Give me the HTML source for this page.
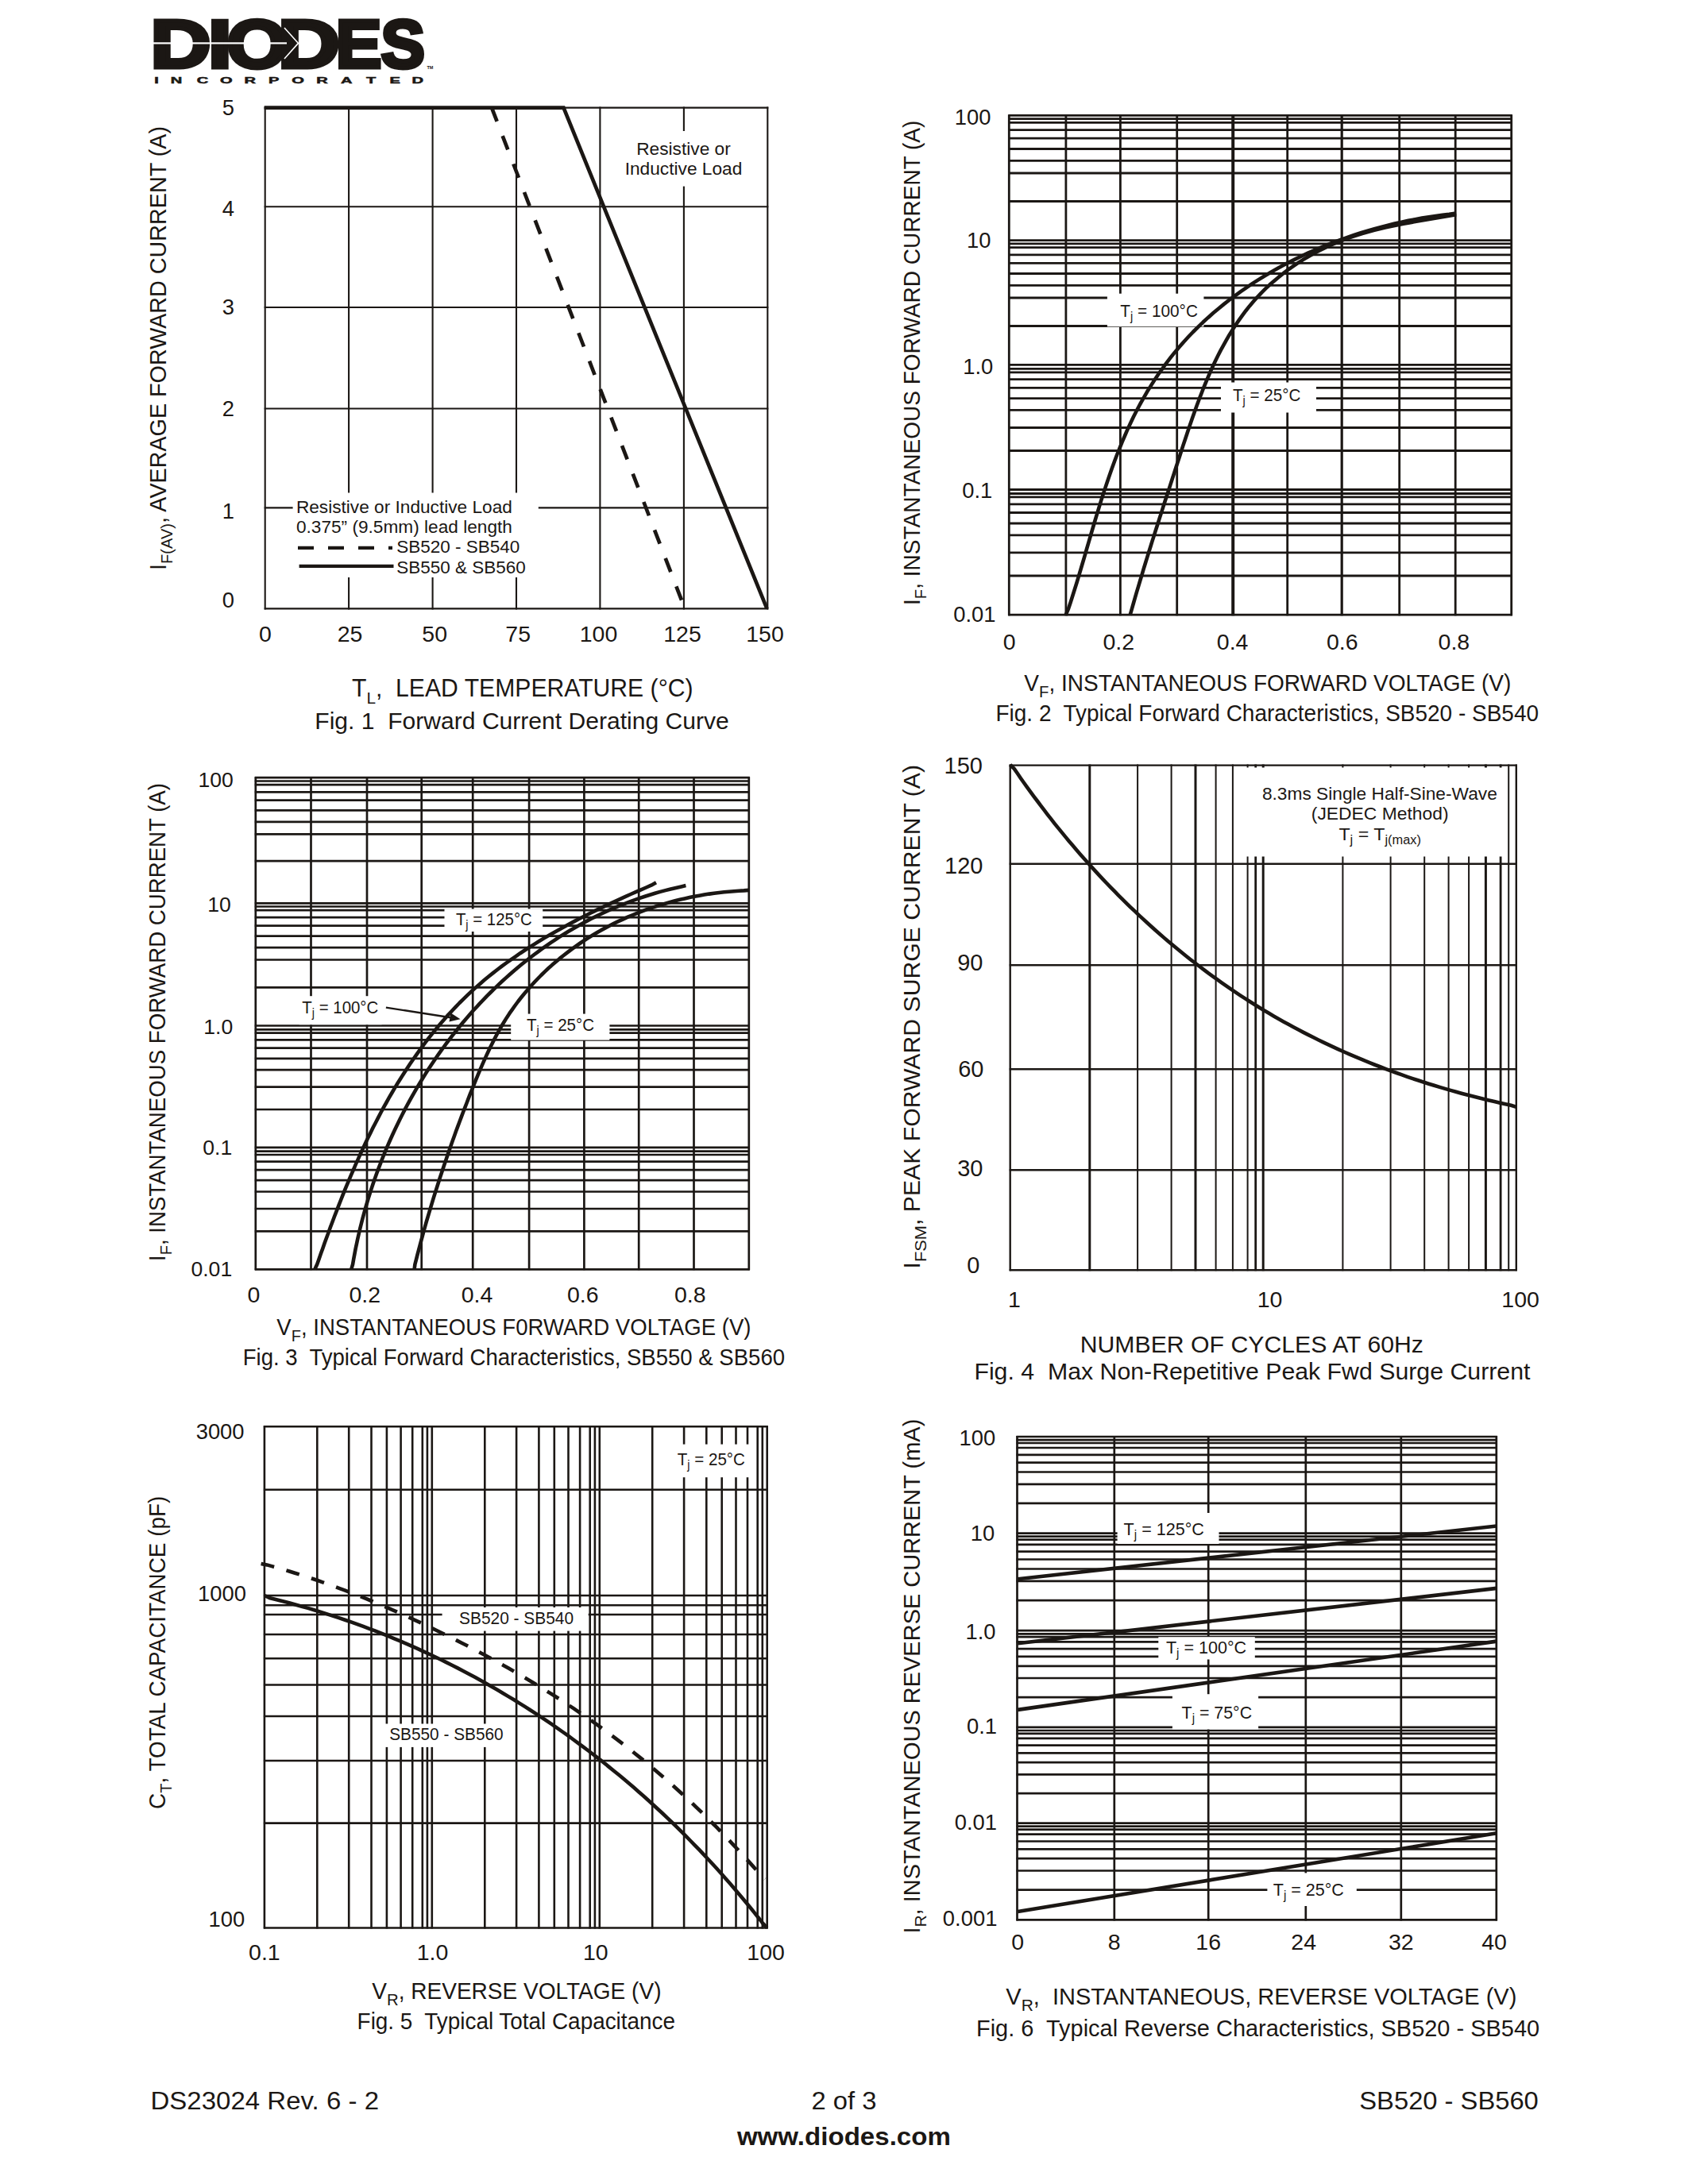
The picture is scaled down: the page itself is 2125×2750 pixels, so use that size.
<!DOCTYPE html>
<html lang="en"><head><meta charset="utf-8"><title>SB520 - SB560</title>
<style>
html,body{margin:0;padding:0;background:#fff;}
body{width:2125px;height:2750px;overflow:hidden;}
svg{display:block;font-family:"Liberation Sans",sans-serif;}
svg text{fill:#1b1714;stroke:none;white-space:pre;}
</style></head><body>
<svg width="2125" height="2750" viewBox="0 0 2125 2750" stroke="#1b1714" fill="#1b1714" stroke-linecap="butt">
<rect x="0" y="0" width="2125" height="2750" fill="#fff" stroke="none"/>
<g aria-label="DIODES"><text transform="translate(189.49,85.4) scale(1.231,1)" font-size="85.5" font-weight="bold" style="stroke:#1b1714;stroke-width:5.0">D</text><text transform="translate(261.98,85.4) scale(1.252,1)" font-size="85.5" font-weight="bold" style="stroke:#1b1714;stroke-width:5.0">I</text><text transform="translate(285.46,85.4) scale(1.153,1)" font-size="85.5" font-weight="bold" style="stroke:#1b1714;stroke-width:5.0">O</text><text transform="translate(349.91,85.4) scale(1.260,1)" font-size="85.5" font-weight="bold" style="stroke:#1b1714;stroke-width:5.0">D</text><text transform="translate(422.87,85.4) scale(1.011,1)" font-size="85.5" font-weight="bold" style="stroke:#1b1714;stroke-width:5.0">E</text><text transform="translate(479.58,85.4) scale(0.971,1)" font-size="85.5" font-weight="bold" style="stroke:#1b1714;stroke-width:5.0">S</text></g>
<rect x="193" y="53.3" width="168" height="2.2" fill="#fff" stroke="none"/>
<path d="M358,35 L375.5,54.4 L358,74" fill="none" stroke="#fff" stroke-width="1.6"/>
<text transform="translate(194,104.9) scale(1.75,1)" x="0.14 11.84 30.73 47.47 64.85 82.23 99.02 116.65 134.32 152.63 169.37 185.50" y="0" font-size="11.5" font-weight="bold" style="stroke:#1b1714;stroke-width:0.5">INCORPORATED</text>
<text x="537.5" y="86.5" font-size="5.5" text-anchor="start" font-weight="bold">TM</text>
<text x="189.5" y="2655.5" font-size="31" text-anchor="start" textLength="287.5" lengthAdjust="spacingAndGlyphs" >DS23024 Rev. 6 - 2</text>
<text x="1062.4" y="2655.5" font-size="31" text-anchor="middle" textLength="82.0" lengthAdjust="spacingAndGlyphs" >2 of 3</text>
<text x="1711.3" y="2655.5" font-size="31" text-anchor="start" textLength="225.5" lengthAdjust="spacingAndGlyphs" >SB520 - SB560</text>
<text x="1062.4" y="2701.0" font-size="31" text-anchor="middle" textLength="269.0" lengthAdjust="spacingAndGlyphs" font-weight="bold">www.diodes.com</text>
<line x1="333.7" y1="134.6" x2="333.7" y2="767.4" stroke-width="2.1" />
<line x1="439.1" y1="134.6" x2="439.1" y2="767.4" stroke-width="2.1" />
<line x1="544.6" y1="134.6" x2="544.6" y2="767.4" stroke-width="2.1" />
<line x1="650.0" y1="134.6" x2="650.0" y2="767.4" stroke-width="2.1" />
<line x1="755.4" y1="134.6" x2="755.4" y2="767.4" stroke-width="2.1" />
<line x1="860.9" y1="134.6" x2="860.9" y2="767.4" stroke-width="2.1" />
<line x1="966.3" y1="134.6" x2="966.3" y2="767.4" stroke-width="2.1" />
<line x1="332.7" y1="135.6" x2="967.3" y2="135.6" stroke-width="2.1" />
<line x1="332.7" y1="260.3" x2="967.3" y2="260.3" stroke-width="2.1" />
<line x1="332.7" y1="387.0" x2="967.3" y2="387.0" stroke-width="2.1" />
<line x1="332.7" y1="514.5" x2="967.3" y2="514.5" stroke-width="2.1" />
<line x1="332.7" y1="639.4" x2="967.3" y2="639.4" stroke-width="2.1" />
<line x1="332.7" y1="766.4" x2="967.3" y2="766.4" stroke-width="2.1" />
<rect x="368.6" y="620.5" width="309.2" height="106.5" fill="#fff" stroke="none"/>
<rect x="787.0" y="165.0" width="147.0" height="69.6" fill="#fff" stroke="none"/>
<path d="M332.7,135.6 L709.5,135.6 L965.5,766.4" fill="none" stroke-width="4.7" stroke-linejoin="miter"/>
<path d="M619,135.6 L859.5,759.5" fill="none" stroke-width="4.7" stroke-dasharray="18.5 19.5"/>
<text x="295.0" y="145.3" font-size="27.4" text-anchor="end" >5</text>
<text x="295.0" y="272.4" font-size="27.4" text-anchor="end" >4</text>
<text x="295.0" y="396.1" font-size="27.4" text-anchor="end" >3</text>
<text x="295.0" y="523.7" font-size="27.4" text-anchor="end" >2</text>
<text x="295.0" y="653.1" font-size="27.4" text-anchor="end" >1</text>
<text x="295.0" y="765.2" font-size="27.4" text-anchor="end" >0</text>
<text x="334.0" y="808.0" font-size="28.5" text-anchor="middle" >0</text>
<text x="440.6" y="808.0" font-size="28.5" text-anchor="middle" >25</text>
<text x="547.2" y="808.0" font-size="28.5" text-anchor="middle" >50</text>
<text x="652.2" y="808.0" font-size="28.5" text-anchor="middle" >75</text>
<text x="753.5" y="808.0" font-size="28.5" text-anchor="middle" >100</text>
<text x="859.0" y="808.0" font-size="28.5" text-anchor="middle" >125</text>
<text x="963.0" y="808.0" font-size="28.5" text-anchor="middle" >150</text>
<text x="860.5" y="195.0" font-size="22.7" text-anchor="middle" >Resistive or</text>
<text x="860.5" y="220.0" font-size="22.7" text-anchor="middle" >Inductive Load</text>
<text x="372.9" y="646.2" font-size="22.7" text-anchor="start" textLength="272.0" lengthAdjust="spacingAndGlyphs" >Resistive or Inductive Load</text>
<text x="372.9" y="671.3" font-size="22.7" text-anchor="start" textLength="272.0" lengthAdjust="spacingAndGlyphs" >0.375” (9.5mm) lead length</text>
<text x="499.2" y="696.3" font-size="22.7" text-anchor="start" textLength="155.2" lengthAdjust="spacingAndGlyphs" >SB520 - SB540</text>
<text x="499.2" y="721.9" font-size="22.7" text-anchor="start" textLength="162.6" lengthAdjust="spacingAndGlyphs" >SB550 &amp; SB560</text>
<line x1="375.0" y1="689.9" x2="494.0" y2="689.9" stroke-width="4.3" stroke-dasharray="20 18"/>
<line x1="376.6" y1="712.9" x2="495.5" y2="712.9" stroke-width="4.3" />
<text transform="translate(209.0,718.0) rotate(-90)" font-size="30" text-anchor="start" textLength="559.0" lengthAdjust="spacingAndGlyphs">I<tspan font-size="21" dy="8">F(AV)</tspan><tspan dy="-8">, AVERAGE FORWARD CURRENT (A)</tspan></text>
<text x="443.0" y="876.5" font-size="30.5" text-anchor="start" textLength="429.5" lengthAdjust="spacingAndGlyphs" >T<tspan font-size="21" dy="9">L</tspan><tspan dy="-9">,  LEAD TEMPERATURE (°C)</tspan></text>
<text x="396.3" y="918.0" font-size="29" text-anchor="start" textLength="521.5" lengthAdjust="spacingAndGlyphs" >Fig. 1  Forward Current Derating Curve</text>
<line x1="1270.3" y1="144.4" x2="1270.3" y2="775.2" stroke-width="2.8" />
<line x1="1341.9" y1="144.4" x2="1341.9" y2="775.2" stroke-width="2.8" />
<line x1="1410.4" y1="144.4" x2="1410.4" y2="775.2" stroke-width="2.8" />
<line x1="1481.7" y1="144.4" x2="1481.7" y2="775.2" stroke-width="2.8" />
<line x1="1552.2" y1="144.4" x2="1552.2" y2="775.2" stroke-width="4.0" />
<line x1="1620.7" y1="144.4" x2="1620.7" y2="775.2" stroke-width="2.8" />
<line x1="1689.2" y1="144.4" x2="1689.2" y2="775.2" stroke-width="3.2" />
<line x1="1761.7" y1="144.4" x2="1761.7" y2="775.2" stroke-width="2.8" />
<line x1="1832.2" y1="144.4" x2="1832.2" y2="775.2" stroke-width="2.8" />
<line x1="1902.7" y1="144.4" x2="1902.7" y2="775.2" stroke-width="2.8" />
<line x1="1269.3" y1="145.4" x2="1903.8" y2="145.4" stroke-width="2.8" />
<line x1="1269.3" y1="149.7" x2="1903.8" y2="149.7" stroke-width="2.8" />
<line x1="1269.3" y1="154.4" x2="1903.8" y2="154.4" stroke-width="2.8" />
<line x1="1269.3" y1="163.6" x2="1903.8" y2="163.6" stroke-width="2.8" />
<line x1="1269.3" y1="174.2" x2="1903.8" y2="174.2" stroke-width="2.8" />
<line x1="1269.3" y1="187.5" x2="1903.8" y2="187.5" stroke-width="2.8" />
<line x1="1269.3" y1="202.3" x2="1903.8" y2="202.3" stroke-width="2.8" />
<line x1="1269.3" y1="218.0" x2="1903.8" y2="218.0" stroke-width="2.8" />
<line x1="1269.3" y1="253.5" x2="1903.8" y2="253.5" stroke-width="2.8" />
<line x1="1269.3" y1="302.6" x2="1903.8" y2="302.6" stroke-width="2.8" />
<line x1="1269.3" y1="306.9" x2="1903.8" y2="306.9" stroke-width="2.8" />
<line x1="1269.3" y1="311.6" x2="1903.8" y2="311.6" stroke-width="2.8" />
<line x1="1269.3" y1="320.8" x2="1903.8" y2="320.8" stroke-width="2.8" />
<line x1="1269.3" y1="331.4" x2="1903.8" y2="331.4" stroke-width="2.8" />
<line x1="1269.3" y1="344.5" x2="1903.8" y2="344.5" stroke-width="2.8" />
<line x1="1269.3" y1="359.3" x2="1903.8" y2="359.3" stroke-width="2.8" />
<line x1="1269.3" y1="375.0" x2="1903.8" y2="375.0" stroke-width="2.8" />
<line x1="1269.3" y1="410.5" x2="1903.8" y2="410.5" stroke-width="2.8" />
<line x1="1269.3" y1="459.4" x2="1903.8" y2="459.4" stroke-width="2.8" />
<line x1="1269.3" y1="464.4" x2="1903.8" y2="464.4" stroke-width="2.8" />
<line x1="1269.3" y1="468.8" x2="1903.8" y2="468.8" stroke-width="2.8" />
<line x1="1269.3" y1="477.7" x2="1903.8" y2="477.7" stroke-width="2.8" />
<line x1="1269.3" y1="488.3" x2="1903.8" y2="488.3" stroke-width="2.8" />
<line x1="1269.3" y1="501.7" x2="1903.8" y2="501.7" stroke-width="2.8" />
<line x1="1269.3" y1="516.4" x2="1903.8" y2="516.4" stroke-width="2.8" />
<line x1="1269.3" y1="538.5" x2="1903.8" y2="538.5" stroke-width="2.8" />
<line x1="1269.3" y1="567.5" x2="1903.8" y2="567.5" stroke-width="2.8" />
<line x1="1269.3" y1="616.5" x2="1903.8" y2="616.5" stroke-width="2.8" />
<line x1="1269.3" y1="621.5" x2="1903.8" y2="621.5" stroke-width="2.8" />
<line x1="1269.3" y1="625.9" x2="1903.8" y2="625.9" stroke-width="2.8" />
<line x1="1269.3" y1="634.9" x2="1903.8" y2="634.9" stroke-width="2.8" />
<line x1="1269.3" y1="645.5" x2="1903.8" y2="645.5" stroke-width="2.8" />
<line x1="1269.3" y1="659.0" x2="1903.8" y2="659.0" stroke-width="2.8" />
<line x1="1269.3" y1="673.8" x2="1903.8" y2="673.8" stroke-width="2.8" />
<line x1="1269.3" y1="695.9" x2="1903.8" y2="695.9" stroke-width="2.8" />
<line x1="1269.3" y1="725.0" x2="1903.8" y2="725.0" stroke-width="2.8" />
<line x1="1269.3" y1="774.2" x2="1903.8" y2="774.2" stroke-width="2.8" />
<rect x="1393.9" y="369.7" width="121.5" height="41.6" fill="#fff" stroke="none"/>
<rect x="1537.0" y="481.5" width="120.0" height="38.0" fill="#fff" stroke="none"/>
<path d="M1341.5,774.6 L1345.0,766.6 L1347.7,758.5 L1350.3,750.3 L1352.9,742.0 L1355.5,733.7 L1358.0,725.3 L1360.5,717.0 L1363.0,708.5 L1365.5,700.1 L1367.9,691.6 L1370.4,683.1 L1372.9,674.5 L1375.4,666.0 L1377.9,657.5 L1380.5,648.9 L1383.1,640.4 L1385.7,631.9 L1388.4,623.4 L1391.2,614.9 L1394.0,606.5 L1396.9,598.1 L1399.8,589.7 L1402.9,581.3 L1406.0,573.0 L1409.3,564.8 L1412.6,556.6 L1416.1,548.5 L1419.6,540.4 L1423.3,532.5 L1427.1,524.5 L1431.1,516.7 L1435.2,509.0 L1439.5,501.4 L1443.8,493.8 L1448.4,486.4 L1453.1,479.0 L1457.9,471.8 L1462.9,464.7 L1468.0,457.6 L1473.3,450.7 L1478.7,443.9 L1484.3,437.3 L1490.0,430.7 L1495.9,424.3 L1501.9,418.0 L1508.1,411.9 L1514.4,405.8 L1520.8,399.9 L1527.4,394.1 L1534.1,388.5 L1540.9,382.9 L1547.8,377.5 L1554.8,372.3 L1561.9,367.1 L1569.2,362.1 L1576.5,357.2 L1584.0,352.4 L1591.5,347.7 L1599.1,343.2 L1606.9,338.8 L1614.6,334.5 L1622.5,330.4 L1630.5,326.4 L1638.5,322.5 L1646.5,318.7 L1654.7,315.1 L1662.9,311.6 L1671.1,308.2 L1679.4,305.0 L1687.8,301.9 L1696.2,298.9 L1704.6,296.0 L1713.0,293.3 L1721.5,290.7 L1730.1,288.2 L1738.6,285.9 L1747.2,283.7 L1755.7,281.6 L1764.3,279.7 L1772.9,277.8 L1781.5,276.2 L1790.1,274.6 L1798.7,273.2 L1807.3,271.9 L1815.8,270.7 L1824.4,269.7 L1833.1,268.4" fill="none" stroke-width="4.6"  stroke-linejoin="round"/>
<path d="M1422.6,774.6 L1424.7,767.3 L1426.8,760.0 L1428.9,752.7 L1431.0,745.4 L1433.2,738.2 L1435.3,731.0 L1437.5,723.8 L1439.6,716.6 L1441.8,709.5 L1444.0,702.4 L1446.2,695.3 L1448.4,688.2 L1450.6,681.1 L1452.9,674.1 L1455.1,667.0 L1457.4,660.0 L1459.6,652.9 L1461.9,645.9 L1464.1,638.9 L1466.4,631.8 L1468.7,624.8 L1471.0,617.7 L1473.3,610.6 L1475.6,603.5 L1477.9,596.4 L1480.2,589.3 L1482.5,582.2 L1484.9,575.0 L1487.2,567.8 L1489.5,560.6 L1491.9,553.4 L1494.3,546.2 L1496.7,539.0 L1499.2,531.8 L1501.7,524.6 L1504.2,517.4 L1506.8,510.3 L1509.4,503.2 L1512.2,496.1 L1514.9,489.0 L1517.8,482.0 L1520.7,475.1 L1523.7,468.1 L1526.8,461.3 L1530.0,454.5 L1533.3,447.8 L1536.7,441.1 L1540.3,434.6 L1543.9,428.1 L1547.6,421.7 L1551.5,415.4 L1555.5,409.2 L1559.7,403.1 L1564.0,397.1 L1568.4,391.2 L1573.0,385.4 L1577.8,379.8 L1582.7,374.3 L1587.8,368.9 L1593.0,363.7 L1598.4,358.6 L1604.0,353.7 L1609.7,348.9 L1615.6,344.2 L1621.6,339.7 L1627.7,335.4 L1633.9,331.2 L1640.3,327.1 L1646.8,323.3 L1653.3,319.5 L1660.0,316.0 L1666.7,312.6 L1673.5,309.4 L1680.4,306.4 L1687.4,303.5 L1694.4,300.9 L1701.5,298.4 L1708.6,296.0 L1715.8,293.8 L1723.0,291.8 L1730.2,289.9 L1737.5,288.0 L1744.8,286.3 L1752.1,284.7 L1759.5,283.2 L1766.8,281.8 L1774.2,280.4 L1781.6,279.0 L1789.0,277.7 L1796.4,276.5 L1803.7,275.2 L1811.1,274.0 L1818.5,272.8 L1825.8,271.5 L1833.1,270.2" fill="none" stroke-width="4.6"  stroke-linejoin="round"/>
<text x="1247.5" y="156.6" font-size="27.4" text-anchor="end" >100</text>
<text x="1247.5" y="312.3" font-size="27.4" text-anchor="end" >10</text>
<text x="1250.3" y="470.7" font-size="27.4" text-anchor="end" >1.0</text>
<text x="1249.3" y="627.0" font-size="27.4" text-anchor="end" >0.1</text>
<text x="1253.5" y="783.2" font-size="27.4" text-anchor="end" >0.01</text>
<text x="1270.6" y="818.0" font-size="28.5" text-anchor="middle" >0</text>
<text x="1408.2" y="818.0" font-size="28.5" text-anchor="middle" >0.2</text>
<text x="1551.6" y="818.0" font-size="28.5" text-anchor="middle" >0.4</text>
<text x="1689.7" y="818.0" font-size="28.5" text-anchor="middle" >0.6</text>
<text x="1830.4" y="818.0" font-size="28.5" text-anchor="middle" >0.8</text>
<text x="1410.3" y="398.6" font-size="22.7" text-anchor="start" textLength="97.6" lengthAdjust="spacingAndGlyphs" >T<tspan font-size="16" dy="5">j</tspan><tspan dy="-5"> = 100°C</tspan></text>
<text x="1552.0" y="505.2" font-size="22.7" text-anchor="start" textLength="85.4" lengthAdjust="spacingAndGlyphs" >T<tspan font-size="16" dy="5">j</tspan><tspan dy="-5"> = 25°C</tspan></text>
<text transform="translate(1158.0,762.0) rotate(-90)" font-size="29" text-anchor="start" textLength="610.4" lengthAdjust="spacingAndGlyphs">I<tspan font-size="21" dy="8">F</tspan><tspan dy="-8">, INSTANTANEOUS FORWARD CURRENT (A)</tspan></text>
<text x="1289.3" y="869.5" font-size="29" text-anchor="start" textLength="613.1" lengthAdjust="spacingAndGlyphs" >V<tspan font-size="21" dy="8">F</tspan><tspan dy="-8">, INSTANTANEOUS FORWARD VOLTAGE (V)</tspan></text>
<text x="1253.5" y="907.9" font-size="29" text-anchor="start" textLength="683.5" lengthAdjust="spacingAndGlyphs" >Fig. 2  Typical Forward Characteristics, SB520 - SB540</text>
<line x1="321.8" y1="978.2" x2="321.8" y2="1599.3" stroke-width="2.7" />
<line x1="391.5" y1="978.2" x2="391.5" y2="1599.3" stroke-width="2.7" />
<line x1="462.0" y1="978.2" x2="462.0" y2="1599.3" stroke-width="2.7" />
<line x1="530.7" y1="978.2" x2="530.7" y2="1599.3" stroke-width="2.7" />
<line x1="595.2" y1="978.2" x2="595.2" y2="1599.3" stroke-width="2.7" />
<line x1="666.1" y1="978.2" x2="666.1" y2="1599.3" stroke-width="2.7" />
<line x1="735.4" y1="978.2" x2="735.4" y2="1599.3" stroke-width="2.7" />
<line x1="804.2" y1="978.2" x2="804.2" y2="1599.3" stroke-width="2.7" />
<line x1="873.5" y1="978.2" x2="873.5" y2="1599.3" stroke-width="2.7" />
<line x1="942.8" y1="978.2" x2="942.8" y2="1599.3" stroke-width="2.7" />
<line x1="320.8" y1="979.2" x2="943.8" y2="979.2" stroke-width="2.7" />
<line x1="320.8" y1="983.5" x2="943.8" y2="983.5" stroke-width="2.7" />
<line x1="320.8" y1="988.2" x2="943.8" y2="988.2" stroke-width="2.7" />
<line x1="320.8" y1="997.4" x2="943.8" y2="997.4" stroke-width="2.7" />
<line x1="320.8" y1="1007.6" x2="943.8" y2="1007.6" stroke-width="2.7" />
<line x1="320.8" y1="1020.4" x2="943.8" y2="1020.4" stroke-width="2.7" />
<line x1="320.8" y1="1034.9" x2="943.8" y2="1034.9" stroke-width="2.7" />
<line x1="320.8" y1="1050.3" x2="943.8" y2="1050.3" stroke-width="2.7" />
<line x1="320.8" y1="1084.1" x2="943.8" y2="1084.1" stroke-width="2.7" />
<line x1="320.8" y1="1137.3" x2="943.8" y2="1137.3" stroke-width="2.7" />
<line x1="320.8" y1="1141.5" x2="943.8" y2="1141.5" stroke-width="2.7" />
<line x1="320.8" y1="1146.1" x2="943.8" y2="1146.1" stroke-width="2.7" />
<line x1="320.8" y1="1155.2" x2="943.8" y2="1155.2" stroke-width="2.7" />
<line x1="320.8" y1="1165.6" x2="943.8" y2="1165.6" stroke-width="2.7" />
<line x1="320.8" y1="1178.6" x2="943.8" y2="1178.6" stroke-width="2.7" />
<line x1="320.8" y1="1193.1" x2="943.8" y2="1193.1" stroke-width="2.7" />
<line x1="320.8" y1="1208.5" x2="943.8" y2="1208.5" stroke-width="2.7" />
<line x1="320.8" y1="1243.4" x2="943.8" y2="1243.4" stroke-width="2.7" />
<line x1="320.8" y1="1291.5" x2="943.8" y2="1291.5" stroke-width="2.7" />
<line x1="320.8" y1="1296.4" x2="943.8" y2="1296.4" stroke-width="2.7" />
<line x1="320.8" y1="1300.7" x2="943.8" y2="1300.7" stroke-width="2.7" />
<line x1="320.8" y1="1309.4" x2="943.8" y2="1309.4" stroke-width="2.7" />
<line x1="320.8" y1="1319.7" x2="943.8" y2="1319.7" stroke-width="2.7" />
<line x1="320.8" y1="1332.8" x2="943.8" y2="1332.8" stroke-width="2.7" />
<line x1="320.8" y1="1347.2" x2="943.8" y2="1347.2" stroke-width="2.7" />
<line x1="320.8" y1="1368.6" x2="943.8" y2="1368.6" stroke-width="2.7" />
<line x1="320.8" y1="1397.0" x2="943.8" y2="1397.0" stroke-width="2.7" />
<line x1="320.8" y1="1444.8" x2="943.8" y2="1444.8" stroke-width="2.7" />
<line x1="320.8" y1="1449.7" x2="943.8" y2="1449.7" stroke-width="2.7" />
<line x1="320.8" y1="1454.0" x2="943.8" y2="1454.0" stroke-width="2.7" />
<line x1="320.8" y1="1462.7" x2="943.8" y2="1462.7" stroke-width="2.7" />
<line x1="320.8" y1="1473.1" x2="943.8" y2="1473.1" stroke-width="2.7" />
<line x1="320.8" y1="1486.2" x2="943.8" y2="1486.2" stroke-width="2.7" />
<line x1="320.8" y1="1500.5" x2="943.8" y2="1500.5" stroke-width="2.7" />
<line x1="320.8" y1="1522.0" x2="943.8" y2="1522.0" stroke-width="2.7" />
<line x1="320.8" y1="1550.4" x2="943.8" y2="1550.4" stroke-width="2.7" />
<line x1="320.8" y1="1598.3" x2="943.8" y2="1598.3" stroke-width="2.7" />
<rect x="559.5" y="1144.5" width="123.7" height="28.5" fill="#fff" stroke="none"/>
<rect x="376.6" y="1254.2" width="104.0" height="36.0" fill="#fff" stroke="none"/>
<rect x="643.2" y="1276.6" width="124.2" height="33.0" fill="#fff" stroke="none"/>
<path d="M396.3,1598.3 L399.3,1591.8 L401.6,1585.2 L403.9,1578.6 L406.3,1572.0 L408.6,1565.3 L411.0,1558.7 L413.5,1552.0 L415.9,1545.3 L418.4,1538.7 L420.9,1532.0 L423.5,1525.3 L426.1,1518.7 L428.7,1512.0 L431.3,1505.4 L434.0,1498.7 L436.7,1492.1 L439.5,1485.5 L442.3,1478.8 L445.2,1472.2 L448.0,1465.7 L451.0,1459.1 L453.9,1452.5 L457.0,1446.0 L460.0,1439.5 L463.1,1433.0 L466.3,1426.6 L469.5,1420.1 L472.8,1413.7 L476.1,1407.4 L479.4,1401.0 L482.8,1394.7 L486.3,1388.5 L489.8,1382.2 L493.4,1376.0 L497.0,1369.9 L500.7,1363.8 L504.5,1357.7 L508.3,1351.7 L512.2,1345.7 L516.1,1339.8 L520.1,1334.0 L524.2,1328.1 L528.3,1322.4 L532.5,1316.7 L536.7,1311.0 L541.1,1305.4 L545.5,1299.9 L549.9,1294.4 L554.5,1289.0 L559.1,1283.7 L563.8,1278.4 L568.6,1273.2 L573.4,1268.1 L578.3,1263.0 L583.3,1258.1 L588.4,1253.2 L593.5,1248.3 L598.7,1243.6 L604.1,1238.9 L609.4,1234.3 L614.9,1229.8 L620.4,1225.4 L626.0,1221.0 L631.7,1216.7 L637.4,1212.5 L643.2,1208.3 L649.1,1204.3 L655.0,1200.2 L661.0,1196.3 L667.0,1192.4 L673.1,1188.6 L679.2,1184.8 L685.3,1181.1 L691.5,1177.5 L697.7,1173.9 L704.0,1170.4 L710.3,1166.9 L716.6,1163.5 L723.0,1160.1 L729.4,1156.8 L735.8,1153.5 L742.2,1150.3 L748.6,1147.1 L755.1,1143.9 L761.5,1140.9 L768.0,1137.8 L774.5,1134.8 L781.0,1131.8 L787.5,1128.9 L793.9,1126.0 L800.4,1123.1 L806.9,1120.3 L813.4,1117.5 L819.8,1114.7 L826.0,1111.3" fill="none" stroke-width="4.6"  stroke-linejoin="round"/>
<path d="M442.2,1598.3 L444.1,1591.9 L445.2,1585.4 L446.4,1579.0 L447.6,1572.5 L449.0,1566.1 L450.3,1559.7 L451.8,1553.3 L453.3,1546.8 L454.9,1540.5 L456.5,1534.1 L458.3,1527.7 L460.0,1521.3 L461.9,1515.0 L463.8,1508.7 L465.8,1502.4 L467.8,1496.1 L469.9,1489.8 L472.1,1483.5 L474.3,1477.3 L476.6,1471.1 L479.0,1464.9 L481.4,1458.7 L483.9,1452.5 L486.4,1446.4 L489.0,1440.3 L491.7,1434.2 L494.4,1428.2 L497.2,1422.2 L500.1,1416.2 L503.0,1410.2 L506.0,1404.3 L509.0,1398.4 L512.1,1392.5 L515.3,1386.7 L518.5,1380.9 L521.8,1375.1 L525.1,1369.4 L528.5,1363.7 L532.0,1358.0 L535.5,1352.4 L539.0,1346.8 L542.7,1341.3 L546.4,1335.8 L550.1,1330.3 L553.9,1324.9 L557.8,1319.5 L561.7,1314.2 L565.7,1308.9 L569.7,1303.7 L573.8,1298.5 L577.9,1293.4 L582.1,1288.3 L586.4,1283.3 L590.7,1278.3 L595.0,1273.3 L599.5,1268.5 L603.9,1263.6 L608.5,1258.9 L613.0,1254.1 L617.7,1249.5 L622.4,1244.9 L627.1,1240.3 L631.9,1235.8 L636.8,1231.4 L641.7,1227.0 L646.6,1222.7 L651.6,1218.5 L656.7,1214.3 L661.8,1210.2 L666.9,1206.2 L672.1,1202.2 L677.4,1198.3 L682.7,1194.4 L688.1,1190.6 L693.5,1186.9 L698.9,1183.3 L704.4,1179.7 L710.0,1176.2 L715.6,1172.8 L721.3,1169.4 L727.0,1166.2 L732.7,1163.0 L738.5,1159.9 L744.4,1156.8 L750.3,1153.9 L756.2,1151.0 L762.2,1148.2 L768.2,1145.4 L774.3,1142.8 L780.5,1140.2 L786.6,1137.8 L792.9,1135.4 L799.1,1133.1 L805.4,1130.9 L811.8,1128.7 L818.2,1126.7 L824.6,1124.8 L831.1,1122.9 L837.7,1121.1 L844.3,1119.4 L850.9,1117.9 L857.5,1116.4 L863.4,1115.0" fill="none" stroke-width="4.6"  stroke-linejoin="round"/>
<path d="M521.6,1598.3 L522.4,1592.0 L524.0,1585.9 L525.5,1579.9 L527.1,1573.8 L528.7,1567.8 L530.3,1561.8 L532.0,1555.7 L533.6,1549.7 L535.3,1543.7 L537.0,1537.7 L538.8,1531.6 L540.6,1525.6 L542.4,1519.6 L544.2,1513.6 L546.0,1507.6 L547.9,1501.6 L549.8,1495.7 L551.7,1489.7 L553.6,1483.7 L555.6,1477.7 L557.6,1471.8 L559.6,1465.8 L561.6,1459.9 L563.6,1453.9 L565.7,1448.0 L567.8,1442.0 L569.9,1436.1 L572.0,1430.2 L574.1,1424.3 L576.3,1418.4 L578.5,1412.5 L580.7,1406.6 L582.9,1400.7 L585.2,1394.8 L587.5,1389.0 L589.7,1383.1 L592.0,1377.2 L594.4,1371.4 L596.7,1365.6 L599.1,1359.7 L601.5,1353.9 L603.9,1348.1 L606.4,1342.4 L608.9,1336.6 L611.5,1330.9 L614.1,1325.2 L616.8,1319.6 L619.6,1314.0 L622.4,1308.4 L625.3,1302.9 L628.3,1297.5 L631.4,1292.0 L634.6,1286.7 L637.9,1281.4 L641.3,1276.2 L644.9,1271.1 L648.5,1266.0 L652.2,1261.0 L656.1,1256.0 L660.0,1251.2 L664.1,1246.4 L668.2,1241.7 L672.5,1237.0 L676.8,1232.5 L681.2,1228.0 L685.7,1223.6 L690.3,1219.3 L695.0,1215.1 L699.8,1211.0 L704.6,1206.9 L709.5,1203.0 L714.5,1199.1 L719.5,1195.3 L724.6,1191.6 L729.8,1188.0 L735.0,1184.5 L740.3,1181.1 L745.7,1177.8 L751.1,1174.6 L756.5,1171.4 L762.1,1168.4 L767.6,1165.5 L773.2,1162.6 L778.9,1159.9 L784.6,1157.3 L790.3,1154.7 L796.1,1152.3 L801.9,1149.9 L807.8,1147.6 L813.6,1145.4 L819.6,1143.4 L825.5,1141.4 L831.5,1139.5 L837.6,1137.7 L843.6,1136.0 L849.7,1134.3 L855.8,1132.8 L861.9,1131.4 L868.0,1130.1 L874.2,1128.8 L880.4,1127.7 L886.6,1126.6 L892.8,1125.6 L899.0,1124.8 L905.3,1124.0 L911.5,1123.3 L917.8,1122.7 L924.0,1122.2 L930.3,1121.7 L936.5,1121.4 L942.8,1120.9" fill="none" stroke-width="4.6"  stroke-linejoin="round"/>
<line x1="485.9" y1="1268.6" x2="572.0" y2="1282.0" stroke-width="2.4" />
<path d="M579.5,1283.2 L565.5,1286.5 L567.5,1275.5 Z" stroke="none"/>
<text x="293.8" y="991.4" font-size="26.6" text-anchor="end" >100</text>
<text x="290.8" y="1147.6" font-size="26.6" text-anchor="end" >10</text>
<text x="293.2" y="1302.3" font-size="26.6" text-anchor="end" >1.0</text>
<text x="292.2" y="1453.7" font-size="26.6" text-anchor="end" >0.1</text>
<text x="292.2" y="1607.2" font-size="26.6" text-anchor="end" >0.01</text>
<text x="319.5" y="1640.4" font-size="28.5" text-anchor="middle" >0</text>
<text x="459.2" y="1640.4" font-size="28.5" text-anchor="middle" >0.2</text>
<text x="600.5" y="1640.4" font-size="28.5" text-anchor="middle" >0.4</text>
<text x="733.8" y="1640.4" font-size="28.5" text-anchor="middle" >0.6</text>
<text x="868.7" y="1640.4" font-size="28.5" text-anchor="middle" >0.8</text>
<text x="573.9" y="1164.6" font-size="22.7" text-anchor="start" textLength="95.9" lengthAdjust="spacingAndGlyphs" >T<tspan font-size="16" dy="5">j</tspan><tspan dy="-5"> = 125°C</tspan></text>
<text x="380.3" y="1275.5" font-size="22.7" text-anchor="start" textLength="96.0" lengthAdjust="spacingAndGlyphs" >T<tspan font-size="16" dy="5">j</tspan><tspan dy="-5"> = 100°C</tspan></text>
<text x="662.9" y="1297.9" font-size="22.7" text-anchor="start" textLength="85.3" lengthAdjust="spacingAndGlyphs" >T<tspan font-size="16" dy="5">j</tspan><tspan dy="-5"> = 25°C</tspan></text>
<text transform="translate(207.8,1588.0) rotate(-90)" font-size="29" text-anchor="start" textLength="602.0" lengthAdjust="spacingAndGlyphs">I<tspan font-size="21" dy="8">F</tspan><tspan dy="-8">, INSTANTANEOUS FORWARD CURRENT (A)</tspan></text>
<text x="348.3" y="1681.2" font-size="29" text-anchor="start" textLength="597.2" lengthAdjust="spacingAndGlyphs" >V<tspan font-size="21" dy="8">F</tspan><tspan dy="-8">, INSTANTANEOUS F0RWARD VOLTAGE (V)</tspan></text>
<text x="305.7" y="1718.5" font-size="29" text-anchor="start" textLength="682.4" lengthAdjust="spacingAndGlyphs" >Fig. 3  Typical Forward Characteristics, SB550 &amp; SB560</text>
<line x1="1271.7" y1="962.6" x2="1271.7" y2="1600.2" stroke-width="2.4" />
<line x1="1371.8" y1="962.6" x2="1371.8" y2="1600.2" stroke-width="3.0" />
<line x1="1432.1" y1="962.6" x2="1432.1" y2="1600.2" stroke-width="2.0" />
<line x1="1474.6" y1="962.6" x2="1474.6" y2="1600.2" stroke-width="2.0" />
<line x1="1505.0" y1="962.6" x2="1505.0" y2="1600.2" stroke-width="3.0" />
<line x1="1530.6" y1="962.6" x2="1530.6" y2="1600.2" stroke-width="2.0" />
<line x1="1551.9" y1="962.6" x2="1551.9" y2="1600.2" stroke-width="2.0" />
<line x1="1570.6" y1="962.6" x2="1570.6" y2="1600.2" stroke-width="2.0" />
<line x1="1580.7" y1="962.6" x2="1580.7" y2="1600.2" stroke-width="2.8" />
<line x1="1590.2" y1="962.6" x2="1590.2" y2="1600.2" stroke-width="3.0" />
<line x1="1690.4" y1="962.6" x2="1690.4" y2="1600.2" stroke-width="2.0" />
<line x1="1750.6" y1="962.6" x2="1750.6" y2="1600.2" stroke-width="2.0" />
<line x1="1793.2" y1="962.6" x2="1793.2" y2="1600.2" stroke-width="2.0" />
<line x1="1823.6" y1="962.6" x2="1823.6" y2="1600.2" stroke-width="2.0" />
<line x1="1849.1" y1="962.6" x2="1849.1" y2="1600.2" stroke-width="2.0" />
<line x1="1870.4" y1="962.6" x2="1870.4" y2="1600.2" stroke-width="3.0" />
<line x1="1889.1" y1="962.6" x2="1889.1" y2="1600.2" stroke-width="2.8" />
<line x1="1899.2" y1="962.6" x2="1899.2" y2="1600.2" stroke-width="2.0" />
<line x1="1908.8" y1="962.6" x2="1908.8" y2="1600.2" stroke-width="2.4" />
<line x1="1270.7" y1="963.6" x2="1909.8" y2="963.6" stroke-width="2.4" />
<line x1="1270.7" y1="1087.8" x2="1909.8" y2="1087.8" stroke-width="2.4" />
<line x1="1270.7" y1="1215.2" x2="1909.8" y2="1215.2" stroke-width="2.4" />
<line x1="1270.7" y1="1346.2" x2="1909.8" y2="1346.2" stroke-width="2.4" />
<line x1="1270.7" y1="1473.3" x2="1909.8" y2="1473.3" stroke-width="2.4" />
<line x1="1270.7" y1="1599.2" x2="1909.8" y2="1599.2" stroke-width="2.4" />
<rect x="1558.0" y="966.5" width="337.0" height="112.0" fill="#fff" stroke="none"/>
<path d="M1271.7,963.0 L1276.7,967.9 L1280.8,973.8 L1284.8,979.7 L1288.9,985.5 L1293.1,991.3 L1297.3,997.1 L1301.5,1002.8 L1305.8,1008.5 L1310.0,1014.2 L1314.4,1019.9 L1318.7,1025.6 L1323.1,1031.2 L1327.5,1036.8 L1332.0,1042.4 L1336.5,1047.9 L1341.0,1053.4 L1345.6,1058.9 L1350.2,1064.3 L1354.8,1069.8 L1359.5,1075.2 L1364.2,1080.5 L1368.9,1085.8 L1373.7,1091.1 L1378.5,1096.4 L1383.3,1101.6 L1388.2,1106.8 L1393.1,1112.0 L1398.0,1117.1 L1403.0,1122.2 L1408.0,1127.3 L1413.1,1132.3 L1418.1,1137.3 L1423.2,1142.3 L1428.4,1147.2 L1433.5,1152.1 L1438.7,1156.9 L1444.0,1161.7 L1449.2,1166.5 L1454.5,1171.2 L1459.9,1175.9 L1465.2,1180.6 L1470.6,1185.2 L1476.1,1189.8 L1481.5,1194.3 L1487.0,1198.8 L1492.5,1203.2 L1498.1,1207.7 L1503.7,1212.0 L1509.3,1216.3 L1515.0,1220.6 L1520.6,1224.9 L1526.4,1229.1 L1532.1,1233.2 L1537.9,1237.3 L1543.7,1241.4 L1549.5,1245.4 L1555.4,1249.4 L1561.3,1253.3 L1567.2,1257.1 L1573.2,1261.0 L1579.2,1264.8 L1585.2,1268.5 L1591.3,1272.2 L1597.4,1275.8 L1603.5,1279.4 L1609.7,1282.9 L1615.8,1286.4 L1622.0,1289.8 L1628.3,1293.2 L1634.5,1296.6 L1640.8,1299.9 L1647.2,1303.1 L1653.5,1306.3 L1659.9,1309.5 L1666.3,1312.6 L1672.7,1315.6 L1679.1,1318.6 L1685.6,1321.6 L1692.1,1324.5 L1698.6,1327.4 L1705.1,1330.2 L1711.7,1332.9 L1718.3,1335.7 L1724.9,1338.3 L1731.5,1341.0 L1738.1,1343.5 L1744.8,1346.1 L1751.5,1348.6 L1758.2,1351.0 L1764.9,1353.4 L1771.6,1355.8 L1778.4,1358.1 L1785.1,1360.3 L1791.9,1362.5 L1798.7,1364.7 L1805.5,1366.8 L1812.4,1368.9 L1819.2,1370.9 L1826.1,1372.9 L1832.9,1374.8 L1839.8,1376.7 L1846.7,1378.5 L1853.6,1380.3 L1860.5,1382.1 L1867.4,1383.8 L1874.4,1385.5 L1881.3,1387.1 L1888.3,1388.7 L1895.2,1390.2 L1902.2,1391.7 L1908.8,1393.9" fill="none" stroke-width="4.6"  stroke-linejoin="round"/>
<text x="1237.0" y="974.4" font-size="29" text-anchor="end" >150</text>
<text x="1237.5" y="1099.7" font-size="29" text-anchor="end" >120</text>
<text x="1237.5" y="1222.3" font-size="29" text-anchor="end" >90</text>
<text x="1238.5" y="1355.6" font-size="29" text-anchor="end" >60</text>
<text x="1237.5" y="1481.4" font-size="29" text-anchor="end" >30</text>
<text x="1233.5" y="1602.9" font-size="29" text-anchor="end" >0</text>
<text x="1277.0" y="1645.7" font-size="28.5" text-anchor="middle" >1</text>
<text x="1598.5" y="1645.7" font-size="28.5" text-anchor="middle" >10</text>
<text x="1914.1" y="1645.7" font-size="28.5" text-anchor="middle" >100</text>
<text x="1588.9" y="1007.3" font-size="22.7" text-anchor="start" textLength="295.9" lengthAdjust="spacingAndGlyphs" >8.3ms Single Half-Sine-Wave</text>
<text x="1650.8" y="1032.4" font-size="22.7" text-anchor="start" textLength="172.7" lengthAdjust="spacingAndGlyphs" >(JEDEC Method)</text>
<text x="1685.4" y="1058.0" font-size="22.7" text-anchor="start" textLength="103.5" lengthAdjust="spacingAndGlyphs" >T<tspan font-size="16" dy="5">j</tspan><tspan dy="-5"> = T</tspan><tspan font-size="16" dy="5">j(max)</tspan></text>
<text transform="translate(1158.2,1597.5) rotate(-90)" font-size="29" text-anchor="start" textLength="634.5" lengthAdjust="spacingAndGlyphs">I<tspan font-size="21" dy="8">FSM</tspan><tspan dy="-8">, PEAK FORWARD SURGE CURRENT (A)</tspan></text>
<text x="1359.7" y="1702.5" font-size="29" text-anchor="start" textLength="432.3" lengthAdjust="spacingAndGlyphs" >NUMBER OF CYCLES AT 60Hz</text>
<text x="1226.4" y="1737.2" font-size="29" text-anchor="start" textLength="700.0" lengthAdjust="spacingAndGlyphs" >Fig. 4  Max Non-Repetitive Peak Fwd Surge Current</text>
<line x1="332.9" y1="1795.3" x2="332.9" y2="2428.5" stroke-width="2.6" />
<line x1="399.3" y1="1795.3" x2="399.3" y2="2428.5" stroke-width="2.6" />
<line x1="439.2" y1="1795.3" x2="439.2" y2="2428.5" stroke-width="2.6" />
<line x1="467.5" y1="1795.3" x2="467.5" y2="2428.5" stroke-width="2.6" />
<line x1="486.9" y1="1795.3" x2="486.9" y2="2428.5" stroke-width="2.6" />
<line x1="504.6" y1="1795.3" x2="504.6" y2="2428.5" stroke-width="2.6" />
<line x1="519.2" y1="1795.3" x2="519.2" y2="2428.5" stroke-width="2.6" />
<line x1="531.8" y1="1795.3" x2="531.8" y2="2428.5" stroke-width="2.6" />
<line x1="537.9" y1="1795.3" x2="537.9" y2="2428.5" stroke-width="2.6" />
<line x1="543.8" y1="1795.3" x2="543.8" y2="2428.5" stroke-width="2.6" />
<line x1="610.3" y1="1795.3" x2="610.3" y2="2428.5" stroke-width="2.6" />
<line x1="650.1" y1="1795.3" x2="650.1" y2="2428.5" stroke-width="2.6" />
<line x1="678.4" y1="1795.3" x2="678.4" y2="2428.5" stroke-width="2.6" />
<line x1="697.8" y1="1795.3" x2="697.8" y2="2428.5" stroke-width="2.6" />
<line x1="715.5" y1="1795.3" x2="715.5" y2="2428.5" stroke-width="2.6" />
<line x1="730.1" y1="1795.3" x2="730.1" y2="2428.5" stroke-width="2.6" />
<line x1="742.7" y1="1795.3" x2="742.7" y2="2428.5" stroke-width="2.6" />
<line x1="748.9" y1="1795.3" x2="748.9" y2="2428.5" stroke-width="2.6" />
<line x1="754.8" y1="1795.3" x2="754.8" y2="2428.5" stroke-width="2.6" />
<line x1="821.2" y1="1795.3" x2="821.2" y2="2428.5" stroke-width="2.6" />
<line x1="861.1" y1="1795.3" x2="861.1" y2="2428.5" stroke-width="2.6" />
<line x1="889.3" y1="1795.3" x2="889.3" y2="2428.5" stroke-width="2.6" />
<line x1="908.7" y1="1795.3" x2="908.7" y2="2428.5" stroke-width="2.6" />
<line x1="926.5" y1="1795.3" x2="926.5" y2="2428.5" stroke-width="2.6" />
<line x1="941.0" y1="1795.3" x2="941.0" y2="2428.5" stroke-width="2.6" />
<line x1="953.7" y1="1795.3" x2="953.7" y2="2428.5" stroke-width="2.6" />
<line x1="959.8" y1="1795.3" x2="959.8" y2="2428.5" stroke-width="2.6" />
<line x1="965.7" y1="1795.3" x2="965.7" y2="2428.5" stroke-width="2.6" />
<line x1="331.9" y1="1796.3" x2="966.7" y2="1796.3" stroke-width="2.6" />
<line x1="331.9" y1="1875.7" x2="966.7" y2="1875.7" stroke-width="2.6" />
<line x1="331.9" y1="2009.0" x2="966.7" y2="2009.0" stroke-width="2.6" />
<line x1="331.9" y1="2021.2" x2="966.7" y2="2021.2" stroke-width="2.6" />
<line x1="331.9" y1="2033.0" x2="966.7" y2="2033.0" stroke-width="2.6" />
<line x1="331.9" y1="2058.0" x2="966.7" y2="2058.0" stroke-width="2.6" />
<line x1="331.9" y1="2088.2" x2="966.7" y2="2088.2" stroke-width="2.6" />
<line x1="331.9" y1="2121.5" x2="966.7" y2="2121.5" stroke-width="2.6" />
<line x1="331.9" y1="2161.0" x2="966.7" y2="2161.0" stroke-width="2.6" />
<line x1="331.9" y1="2217.0" x2="966.7" y2="2217.0" stroke-width="2.6" />
<line x1="331.9" y1="2295.6" x2="966.7" y2="2295.6" stroke-width="2.6" />
<line x1="331.9" y1="2427.5" x2="966.7" y2="2427.5" stroke-width="2.6" />
<rect x="845.8" y="1818.6" width="98.6" height="41.6" fill="#fff" stroke="none"/>
<rect x="556.6" y="2024.0" width="184.1" height="29.6" fill="#fff" stroke="none"/>
<rect x="484.8" y="2170.5" width="151.4" height="29.4" fill="#fff" stroke="none"/>
<path d="M328.6,1969.0 L336.0,1970.4 L343.1,1972.4 L350.1,1974.4 L357.2,1976.4 L364.2,1978.5 L371.3,1980.7 L378.3,1982.9 L385.3,1985.2 L392.3,1987.5 L399.2,1989.8 L406.2,1992.3 L413.1,1994.7 L420.0,1997.2 L426.9,1999.8 L433.8,2002.4 L440.7,2005.0 L447.5,2007.7 L454.4,2010.4 L461.2,2013.2 L468.0,2016.0 L474.8,2018.9 L481.6,2021.7 L488.4,2024.7 L495.1,2027.6 L501.9,2030.6 L508.6,2033.6 L515.3,2036.7 L522.0,2039.8 L528.7,2042.9 L535.4,2046.1 L542.0,2049.3 L548.7,2052.5 L555.3,2055.7 L561.9,2059.0 L568.5,2062.3 L575.1,2065.6 L581.7,2069.0 L588.3,2072.3 L594.8,2075.8 L601.4,2079.2 L607.9,2082.7 L614.4,2086.2 L620.9,2089.7 L627.3,2093.3 L633.8,2096.9 L640.2,2100.6 L646.6,2104.2 L653.0,2107.9 L659.4,2111.7 L665.7,2115.4 L672.0,2119.2 L678.3,2123.1 L684.6,2127.0 L690.8,2130.9 L697.1,2134.8 L703.3,2138.8 L709.5,2142.8 L715.6,2146.9 L721.7,2150.9 L727.8,2155.1 L733.9,2159.2 L739.9,2163.4 L746.0,2167.7 L752.0,2171.9 L757.9,2176.2 L763.9,2180.6 L769.8,2185.0 L775.6,2189.4 L781.5,2193.9 L787.3,2198.4 L793.1,2202.9 L798.8,2207.5 L804.6,2212.1 L810.3,2216.7 L815.9,2221.4 L821.6,2226.1 L827.2,2230.9 L832.8,2235.7 L838.3,2240.5 L843.8,2245.3 L849.3,2250.2 L854.8,2255.2 L860.2,2260.2 L865.6,2265.2 L871.0,2270.2 L876.3,2275.3 L881.6,2280.4 L886.9,2285.6 L892.1,2290.8 L897.3,2296.0 L902.5,2301.2 L907.7,2306.5 L912.8,2311.8 L917.9,2317.2 L922.9,2322.6 L928.0,2328.0 L933.0,2333.4 L938.0,2338.9 L943.0,2344.4 L947.9,2349.9 L952.8,2355.4 L957.7,2361.0 L963.1,2365.9" fill="none" stroke-width="4.6" stroke-dasharray="17 16" stroke-linejoin="round"/>
<path d="M332.9,2009.0 L340.2,2012.3 L348.2,2014.3 L356.1,2016.3 L364.0,2018.3 L371.9,2020.5 L379.8,2022.7 L387.6,2024.9 L395.5,2027.2 L403.3,2029.6 L411.1,2032.1 L418.8,2034.6 L426.6,2037.1 L434.3,2039.7 L442.0,2042.4 L449.7,2045.1 L457.3,2047.9 L465.0,2050.8 L472.6,2053.7 L480.1,2056.7 L487.7,2059.7 L495.2,2062.8 L502.7,2065.9 L510.2,2069.1 L517.6,2072.4 L525.0,2075.7 L532.4,2079.1 L539.8,2082.5 L547.2,2086.0 L554.5,2089.5 L561.8,2093.1 L569.0,2096.7 L576.2,2100.4 L583.5,2104.2 L590.6,2108.0 L597.8,2111.8 L604.9,2115.8 L612.0,2119.7 L619.0,2123.7 L626.1,2127.8 L633.1,2131.9 L640.0,2136.1 L647.0,2140.3 L653.9,2144.6 L660.8,2148.9 L667.6,2153.2 L674.4,2157.7 L681.2,2162.1 L688.0,2166.7 L694.7,2171.2 L701.4,2175.8 L708.0,2180.5 L714.7,2185.2 L721.2,2190.0 L727.8,2194.8 L734.3,2199.6 L740.8,2204.5 L747.3,2209.5 L753.7,2214.4 L760.1,2219.5 L766.4,2224.6 L772.7,2229.7 L779.0,2234.8 L785.3,2240.1 L791.5,2245.3 L797.7,2250.6 L803.8,2256.0 L809.9,2261.3 L816.0,2266.8 L822.0,2272.2 L828.0,2277.7 L834.0,2283.3 L839.9,2288.9 L845.8,2294.5 L851.6,2300.2 L857.4,2305.9 L863.2,2311.7 L868.9,2317.5 L874.6,2323.3 L880.3,2329.2 L885.9,2335.1 L891.4,2341.0 L897.0,2347.0 L902.5,2353.0 L907.9,2359.1 L913.3,2365.2 L918.7,2371.3 L924.0,2377.5 L929.3,2383.7 L934.6,2389.9 L939.8,2396.2 L945.0,2402.5 L950.1,2408.9 L955.2,2415.2 L960.2,2421.7 L965.7,2427.5" fill="none" stroke-width="4.6"  stroke-linejoin="round"/>
<text x="307.6" y="1812.4" font-size="27.4" text-anchor="end" >3000</text>
<text x="310.0" y="2015.9" font-size="27.4" text-anchor="end" >1000</text>
<text x="308.2" y="2426.3" font-size="27.4" text-anchor="end" >100</text>
<text x="332.9" y="2468.0" font-size="28.5" text-anchor="middle" >0.1</text>
<text x="544.5" y="2468.0" font-size="28.5" text-anchor="middle" >1.0</text>
<text x="749.8" y="2468.0" font-size="28.5" text-anchor="middle" >10</text>
<text x="964.1" y="2468.0" font-size="28.5" text-anchor="middle" >100</text>
<text x="852.7" y="1845.3" font-size="22.7" text-anchor="start" textLength="85.3" lengthAdjust="spacingAndGlyphs" >T<tspan font-size="16" dy="5">j</tspan><tspan dy="-5"> = 25°C</tspan></text>
<text x="578.1" y="2045.2" font-size="22.7" text-anchor="start" textLength="144.0" lengthAdjust="spacingAndGlyphs" >SB520 - SB540</text>
<text x="490.2" y="2190.8" font-size="22.7" text-anchor="start" textLength="143.4" lengthAdjust="spacingAndGlyphs" >SB550 - SB560</text>
<text transform="translate(207.8,2278.0) rotate(-90)" font-size="29" text-anchor="start" textLength="394.3" lengthAdjust="spacingAndGlyphs">C<tspan font-size="21" dy="8">T</tspan><tspan dy="-8">, TOTAL CAPACITANCE (pF)</tspan></text>
<text x="468.3" y="2516.8" font-size="29" text-anchor="start" textLength="364.2" lengthAdjust="spacingAndGlyphs" >V<tspan font-size="21" dy="8">R</tspan><tspan dy="-8">, REVERSE VOLTAGE (V)</tspan></text>
<text x="449.6" y="2555.2" font-size="29" text-anchor="start" textLength="400.4" lengthAdjust="spacingAndGlyphs" >Fig. 5  Typical Total Capacitance</text>
<line x1="1280.5" y1="1808.0" x2="1280.5" y2="2418.4" stroke-width="2.7" />
<line x1="1402.8" y1="1808.0" x2="1402.8" y2="2418.4" stroke-width="2.7" />
<line x1="1521.2" y1="1808.0" x2="1521.2" y2="2418.4" stroke-width="2.7" />
<line x1="1643.8" y1="1808.0" x2="1643.8" y2="2418.4" stroke-width="2.7" />
<line x1="1763.8" y1="1808.0" x2="1763.8" y2="2418.4" stroke-width="2.7" />
<line x1="1883.8" y1="1808.0" x2="1883.8" y2="2418.4" stroke-width="2.7" />
<line x1="1279.5" y1="1809.0" x2="1884.8" y2="1809.0" stroke-width="2.7" />
<line x1="1279.5" y1="1813.1" x2="1884.8" y2="1813.1" stroke-width="2.7" />
<line x1="1279.5" y1="1817.0" x2="1884.8" y2="1817.0" stroke-width="2.7" />
<line x1="1279.5" y1="1823.0" x2="1884.8" y2="1823.0" stroke-width="2.7" />
<line x1="1279.5" y1="1831.9" x2="1884.8" y2="1831.9" stroke-width="2.7" />
<line x1="1279.5" y1="1841.6" x2="1884.8" y2="1841.6" stroke-width="2.7" />
<line x1="1279.5" y1="1853.5" x2="1884.8" y2="1853.5" stroke-width="2.7" />
<line x1="1279.5" y1="1868.8" x2="1884.8" y2="1868.8" stroke-width="2.7" />
<line x1="1279.5" y1="1892.9" x2="1884.8" y2="1892.9" stroke-width="2.7" />
<line x1="1279.5" y1="1930.6" x2="1884.8" y2="1930.6" stroke-width="2.7" />
<line x1="1279.5" y1="1934.7" x2="1884.8" y2="1934.7" stroke-width="2.7" />
<line x1="1279.5" y1="1938.7" x2="1884.8" y2="1938.7" stroke-width="2.7" />
<line x1="1279.5" y1="1944.8" x2="1884.8" y2="1944.8" stroke-width="2.7" />
<line x1="1279.5" y1="1953.7" x2="1884.8" y2="1953.7" stroke-width="2.7" />
<line x1="1279.5" y1="1963.5" x2="1884.8" y2="1963.5" stroke-width="2.7" />
<line x1="1279.5" y1="1975.5" x2="1884.8" y2="1975.5" stroke-width="2.7" />
<line x1="1279.5" y1="1990.9" x2="1884.8" y2="1990.9" stroke-width="2.7" />
<line x1="1279.5" y1="2015.2" x2="1884.8" y2="2015.2" stroke-width="2.7" />
<line x1="1279.5" y1="2053.2" x2="1884.8" y2="2053.2" stroke-width="2.7" />
<line x1="1279.5" y1="2057.3" x2="1884.8" y2="2057.3" stroke-width="2.7" />
<line x1="1279.5" y1="2061.2" x2="1884.8" y2="2061.2" stroke-width="2.7" />
<line x1="1279.5" y1="2067.3" x2="1884.8" y2="2067.3" stroke-width="2.7" />
<line x1="1279.5" y1="2076.1" x2="1884.8" y2="2076.1" stroke-width="2.7" />
<line x1="1279.5" y1="2085.8" x2="1884.8" y2="2085.8" stroke-width="2.7" />
<line x1="1279.5" y1="2097.8" x2="1884.8" y2="2097.8" stroke-width="2.7" />
<line x1="1279.5" y1="2113.0" x2="1884.8" y2="2113.0" stroke-width="2.7" />
<line x1="1279.5" y1="2137.1" x2="1884.8" y2="2137.1" stroke-width="2.7" />
<line x1="1279.5" y1="2174.9" x2="1884.8" y2="2174.9" stroke-width="2.7" />
<line x1="1279.5" y1="2179.0" x2="1884.8" y2="2179.0" stroke-width="2.7" />
<line x1="1279.5" y1="2182.9" x2="1884.8" y2="2182.9" stroke-width="2.7" />
<line x1="1279.5" y1="2188.8" x2="1884.8" y2="2188.8" stroke-width="2.7" />
<line x1="1279.5" y1="2197.6" x2="1884.8" y2="2197.6" stroke-width="2.7" />
<line x1="1279.5" y1="2207.3" x2="1884.8" y2="2207.3" stroke-width="2.7" />
<line x1="1279.5" y1="2219.1" x2="1884.8" y2="2219.1" stroke-width="2.7" />
<line x1="1279.5" y1="2234.3" x2="1884.8" y2="2234.3" stroke-width="2.7" />
<line x1="1279.5" y1="2258.2" x2="1884.8" y2="2258.2" stroke-width="2.7" />
<line x1="1279.5" y1="2295.6" x2="1884.8" y2="2295.6" stroke-width="2.7" />
<line x1="1279.5" y1="2299.7" x2="1884.8" y2="2299.7" stroke-width="2.7" />
<line x1="1279.5" y1="2303.6" x2="1884.8" y2="2303.6" stroke-width="2.7" />
<line x1="1279.5" y1="2309.7" x2="1884.8" y2="2309.7" stroke-width="2.7" />
<line x1="1279.5" y1="2318.5" x2="1884.8" y2="2318.5" stroke-width="2.7" />
<line x1="1279.5" y1="2328.3" x2="1884.8" y2="2328.3" stroke-width="2.7" />
<line x1="1279.5" y1="2340.2" x2="1884.8" y2="2340.2" stroke-width="2.7" />
<line x1="1279.5" y1="2355.5" x2="1884.8" y2="2355.5" stroke-width="2.7" />
<line x1="1279.5" y1="2379.6" x2="1884.8" y2="2379.6" stroke-width="2.7" />
<line x1="1279.5" y1="2417.4" x2="1884.8" y2="2417.4" stroke-width="2.7" />
<rect x="1406.6" y="1905.0" width="127.9" height="39.0" fill="#fff" stroke="none"/>
<rect x="1458.3" y="2061.2" width="121.5" height="28.3" fill="#fff" stroke="none"/>
<rect x="1475.9" y="2133.2" width="108.2" height="44.3" fill="#fff" stroke="none"/>
<rect x="1595.4" y="2358.4" width="112.4" height="41.6" fill="#fff" stroke="none"/>
<line x1="1281.3" y1="1988.2" x2="1884.0" y2="1921.5" stroke-width="4.6" />
<line x1="1281.3" y1="2069.2" x2="1884.0" y2="1999.9" stroke-width="4.6" />
<line x1="1281.3" y1="2152.9" x2="1884.0" y2="2066.6" stroke-width="4.6" />
<line x1="1281.3" y1="2406.9" x2="1884.0" y2="2308.2" stroke-width="4.6" />
<text x="1253.2" y="1819.9" font-size="27.4" text-anchor="end" >100</text>
<text x="1252.2" y="1939.9" font-size="27.4" text-anchor="end" >10</text>
<text x="1253.6" y="2064.1" font-size="27.4" text-anchor="end" >1.0</text>
<text x="1255.0" y="2182.7" font-size="27.4" text-anchor="end" >0.1</text>
<text x="1255.0" y="2303.9" font-size="27.4" text-anchor="end" >0.01</text>
<text x="1255.4" y="2424.6" font-size="27.4" text-anchor="end" >0.001</text>
<text x="1281.3" y="2455.0" font-size="28.5" text-anchor="middle" >0</text>
<text x="1402.8" y="2455.0" font-size="28.5" text-anchor="middle" >8</text>
<text x="1521.2" y="2455.0" font-size="28.5" text-anchor="middle" >16</text>
<text x="1641.2" y="2455.0" font-size="28.5" text-anchor="middle" >24</text>
<text x="1763.8" y="2455.0" font-size="28.5" text-anchor="middle" >32</text>
<text x="1881.1" y="2455.0" font-size="28.5" text-anchor="middle" >40</text>
<text x="1414.6" y="1933.3" font-size="22.7" text-anchor="start" textLength="101.3" lengthAdjust="spacingAndGlyphs" >T<tspan font-size="16" dy="5">j</tspan><tspan dy="-5"> = 125°C</tspan></text>
<text x="1467.9" y="2081.5" font-size="22.7" text-anchor="start" textLength="101.3" lengthAdjust="spacingAndGlyphs" >T<tspan font-size="16" dy="5">j</tspan><tspan dy="-5"> = 100°C</tspan></text>
<text x="1487.6" y="2164.1" font-size="22.7" text-anchor="start" textLength="88.5" lengthAdjust="spacingAndGlyphs" >T<tspan font-size="16" dy="5">j</tspan><tspan dy="-5"> = 75°C</tspan></text>
<text x="1602.8" y="2386.6" font-size="22.7" text-anchor="start" textLength="89.0" lengthAdjust="spacingAndGlyphs" >T<tspan font-size="16" dy="5">j</tspan><tspan dy="-5"> = 25°C</tspan></text>
<text transform="translate(1158.2,2434.6) rotate(-90)" font-size="29" text-anchor="start" textLength="647.9" lengthAdjust="spacingAndGlyphs">I<tspan font-size="21" dy="8">R</tspan><tspan dy="-8">, INSTANTANEOUS REVERSE CURRENT (mA)</tspan></text>
<text x="1266.3" y="2524.2" font-size="29" text-anchor="start" textLength="643.0" lengthAdjust="spacingAndGlyphs" >V<tspan font-size="21" dy="8">R</tspan><tspan dy="-8">,  INSTANTANEOUS, REVERSE VOLTAGE (V)</tspan></text>
<text x="1229.0" y="2564.2" font-size="29" text-anchor="start" textLength="709.1" lengthAdjust="spacingAndGlyphs" >Fig. 6  Typical Reverse Characteristics, SB520 - SB540</text>
</svg>
</body></html>
